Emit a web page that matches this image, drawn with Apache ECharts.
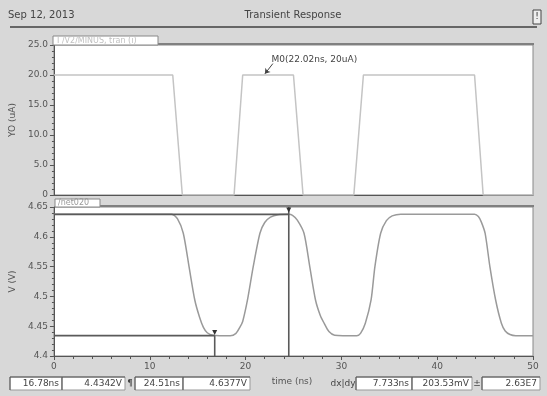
<!DOCTYPE html>
<html>
<head>
<meta charset="utf-8">
<script src="https://cdn.jsdelivr.net/npm/echarts@6/dist/echarts.min.js"></script>
<style>
  html, body { margin: 0; padding: 0; background: #d8d8d8; }
  #chart { width: 547px; height: 396px; }
</style>
</head>
<body>
<div id="chart"></div>
<script>
// top panel: current pulse I0 (uA) vs time (ns)
const pulseT = [0, 12.4, 13.4, 18.8, 19.7, 25.0, 26.0, 31.3, 32.3, 43.9, 44.8, 50];
const pulseI = [20, 20, 0, 0, 20, 20, 0, 0, 20, 20, 0, 0];

// bottom panel: /net020 voltage vs time
const waveT = [0, 12.3, 12.9, 13.5, 14.1, 14.7, 15.2, 15.6, 16.0, 16.6, 18.4, 19.0, 19.4, 19.7, 20.2, 20.8,
  21.5, 22.0, 22.6, 23.4, 24.5, 24.9, 25.4, 26.1, 26.7, 27.3, 27.8, 28.2, 28.7, 29.3, 31.6, 32.0, 32.5, 33.1,
  33.5, 34.1, 34.7, 35.3, 36.2, 43.9, 44.3, 44.6, 45.0, 45.5, 46.1, 46.7, 47.1, 47.6, 48.2, 50];
const waveV = [4.638, 4.638, 4.630, 4.606, 4.550, 4.494, 4.465, 4.448, 4.439, 4.435, 4.434, 4.438, 4.448, 4.458, 4.494, 4.550,
  4.606, 4.624, 4.633, 4.637, 4.6377, 4.636, 4.628, 4.606, 4.550, 4.494, 4.468, 4.455, 4.441, 4.435, 4.434, 4.438, 4.455, 4.494,
  4.550, 4.606, 4.627, 4.635, 4.638, 4.638, 4.634, 4.625, 4.606, 4.550, 4.494, 4.455, 4.442, 4.436, 4.434, 4.434];

const marker0 = [22.02, 20];
const cursorA = [16.78, 4.4342];
const cursorB = [24.51, 4.6377];
const readouts = ["16.78ns", "4.4342V", "24.51ns", "4.6377V", "7.733ns", "203.53mV", "2.63E7"];

const font = "DejaVu Sans";
const axisGray = "#555";
const labelGray = "#555";

function pairs(xs, ys) {
  return xs.map((x, i) => [x, ys[i]]);
}

function segLine(name, pts) {
  return {
    name, type: "line", xAxisIndex: 1, yAxisIndex: 1, data: pts, symbol: "none",
    lineStyle: { color: "#5a5a5a", width: 1.6 }, silent: true, z: 4,
  };
}

const chart = echarts.init(document.getElementById("chart"), null, { renderer: "canvas" });

const tickStyle = { show: true, length: 4, lineStyle: { color: axisGray, width: 1 } };
const minorStyle = { show: true, splitNumber: 5, length: 2, lineStyle: { color: axisGray, width: 1 } };

const commonX = {
  type: "value", min: 0, max: 50, interval: 10,
  axisLine: { show: true, onZero: false, lineStyle: { color: axisGray } },
  splitLine: { show: false },
  minorSplitLine: { show: false },
};
const commonY = {
  type: "value",
  nameLocation: "middle", nameRotate: 90, nameGap: 30,
  nameTextStyle: { fontFamily: font, fontSize: 9, color: labelGray },
  axisLine: { show: true, lineStyle: { color: axisGray } },
  axisTick: tickStyle,
  minorTick: minorStyle,
  axisLabel: { fontFamily: font, fontSize: 9, color: labelGray, margin: 6 },
  splitLine: { show: false },
  minorSplitLine: { show: false },
};

// readout boxes along the bottom bar
function box(x, w, text) {
  return [
    { type: "rect", shape: { x, y: 377, width: w, height: 13 }, style: { fill: "#fff", stroke: "#999", lineWidth: 1 } },
    { type: "polyline", shape: { points: [[x, 390], [x, 377], [x + w, 377]] }, style: { stroke: "#555", lineWidth: 1 } },
    { type: "text", x: x + w - 3, y: 383.5, style: { text, fontFamily: font, fontSize: 9, fill: "#444", align: "right", verticalAlign: "middle" } },
  ];
}

chart.setOption({
  backgroundColor: "#d8d8d8",
  animation: false,
  grid: [
    { left: 53, right: 14, top: 45, height: 150, show: true, backgroundColor: "#fff", borderColor: "#888", borderWidth: 1 },
    { left: 53, right: 14, top: 207, height: 149, show: true, backgroundColor: "#fff", borderColor: "#888", borderWidth: 1 },
  ],
  xAxis: [
    Object.assign({}, commonX, { gridIndex: 0, axisLabel: { show: false }, axisTick: { show: false } }),
    Object.assign({}, commonX, {
      gridIndex: 1,
      axisTick: tickStyle,
      minorTick: { show: true, splitNumber: 5, length: 3, lineStyle: { color: axisGray, width: 1 } },
      axisLabel: { fontFamily: font, fontSize: 9, color: labelGray, margin: 6 },
    }),
  ],
  yAxis: [
    Object.assign({}, commonY, {
      gridIndex: 0, min: 0, max: 25, interval: 5, name: "YO (uA)",
      axisLabel: Object.assign({}, commonY.axisLabel, { formatter: v => (v === 0 ? "0" : v.toFixed(1)) }),
    }),
    Object.assign({}, commonY, {
      gridIndex: 1, min: 4.4, max: 4.65, interval: 0.05, name: "V (V)",
      axisLabel: Object.assign({}, commonY.axisLabel, { formatter: v => String(parseFloat(v.toFixed(2))) }),
    }),
  ],
  series: [
    {
      name: "I0", type: "line", xAxisIndex: 0, yAxisIndex: 0, data: pairs(pulseT, pulseI),
      symbol: "none", lineStyle: { color: "#c4c4c4", width: 1.5 }, z: 3,
      markLine: {
        silent: true, symbol: ["none", "arrow"], symbolSize: 5,
        lineStyle: { color: "#444", width: 1, type: "solid" }, label: { show: false },
        data: [[{ coord: [22.85, 21.9] }, { coord: [marker0[0], marker0[1] + 0.2] }]],
      },
      markPoint: {
        symbol: "circle", symbolSize: 0,
        label: {
          show: true, position: "right", distance: 0, fontFamily: font, fontSize: 9, color: "#444",
          formatter: "M0(" + marker0[0] + "ns, " + marker0[1] + "uA)",
        },
        data: [{ coord: [22.7, 22.6] }],
      },
    },
    {
      name: "/net020", type: "line", xAxisIndex: 1, yAxisIndex: 1, data: pairs(waveT, waveV),
      symbol: "none", smooth: 0.25, lineStyle: { color: "#9a9a9a", width: 1.5 }, z: 3,
    },
    segLine("cursorA-h", [[0, cursorA[1]], [cursorA[0], cursorA[1]]]),
    Object.assign(segLine("cursorA-v", [[cursorA[0], cursorA[1]], [cursorA[0], 4.4]]), {
      markPoint: {
        symbol: "triangle", symbolRotate: 180, symbolSize: 5, symbolOffset: [0, -3],
        itemStyle: { color: "#333" }, label: { show: false },
        data: [{ coord: cursorA }],
      },
    }),
    segLine("cursorB-h", [[0, cursorB[1]], [cursorB[0], cursorB[1]]]),
    Object.assign(segLine("cursorB-v", [[cursorB[0], 4.65], [cursorB[0], 4.4]]), {
      markPoint: {
        symbol: "triangle", symbolRotate: 180, symbolSize: 5, symbolOffset: [0, 3],
        itemStyle: { color: "#333" }, label: { show: false },
        data: [{ coord: [cursorB[0], 4.65] }],
      },
    }),
  ],
  graphic: [
    // header
    { type: "text", x: 8, y: 15, style: { text: "Sep 12, 2013", fontFamily: font, fontSize: 10, fill: "#444", verticalAlign: "middle" } },
    { type: "text", x: 293, y: 15, style: { text: "Transient Response", fontFamily: font, fontSize: 10, fill: "#444", align: "center", verticalAlign: "middle" } },
    { type: "line", shape: { x1: 10, y1: 27, x2: 537, y2: 27 }, style: { stroke: "#666", lineWidth: 2 } },
    { type: "rect", shape: { x: 533, y: 10, width: 8, height: 14 }, style: { fill: "#eee", stroke: "#444", lineWidth: 1 } },
    { type: "text", x: 537, y: 17, style: { text: "!", fontFamily: font, fontSize: 9, fill: "#333", align: "center", verticalAlign: "middle" } },
    // top panel tab
    { type: "line", shape: { x1: 158, y1: 44, x2: 534, y2: 44 }, style: { stroke: "#808080", lineWidth: 2 }, z: 10 },
    { type: "rect", shape: { x: 53, y: 36, width: 105, height: 9 }, style: { fill: "#fff", stroke: "#888", lineWidth: 1 }, z: 10 },
    { type: "text", x: 57, y: 40.5, style: { text: "I /V2/MINUS, tran (i)", fontFamily: font, fontSize: 8, fill: "#c0c0c0", verticalAlign: "middle" }, z: 11 },
    // bottom panel tab
    { type: "line", shape: { x1: 100, y1: 206, x2: 534, y2: 206 }, style: { stroke: "#808080", lineWidth: 2 }, z: 10 },
    { type: "rect", shape: { x: 55, y: 199, width: 45, height: 8 }, style: { fill: "#fff", stroke: "#888", lineWidth: 1 }, z: 10 },
    { type: "text", x: 58, y: 203, style: { text: "/net020", fontFamily: font, fontSize: 8, fill: "#999", verticalAlign: "middle" }, z: 11 },
    // bottom bar
    ...box(10, 52, readouts[0]),
    ...box(62, 63, readouts[1]),
    { type: "text", x: 130, y: 383.5, style: { text: "¶", fontFamily: font, fontSize: 9, fill: "#444", align: "center", verticalAlign: "middle" } },
    ...box(135, 48, readouts[2]),
    ...box(183, 67, readouts[3]),
    { type: "text", x: 292, y: 382, style: { text: "time (ns)", fontFamily: font, fontSize: 9, fill: "#555", align: "center", verticalAlign: "middle" } },
    { type: "text", x: 343, y: 383.5, style: { text: "dx|dy", fontFamily: font, fontSize: 9, fill: "#444", align: "center", verticalAlign: "middle" } },
    ...box(356, 56, readouts[4]),
    ...box(412, 60, readouts[5]),
    { type: "text", x: 477, y: 383.5, style: { text: "±", fontFamily: font, fontSize: 9, fill: "#444", align: "center", verticalAlign: "middle" } },
    ...box(482, 58, readouts[6]),
  ],
});
</script>
</body>
</html>
